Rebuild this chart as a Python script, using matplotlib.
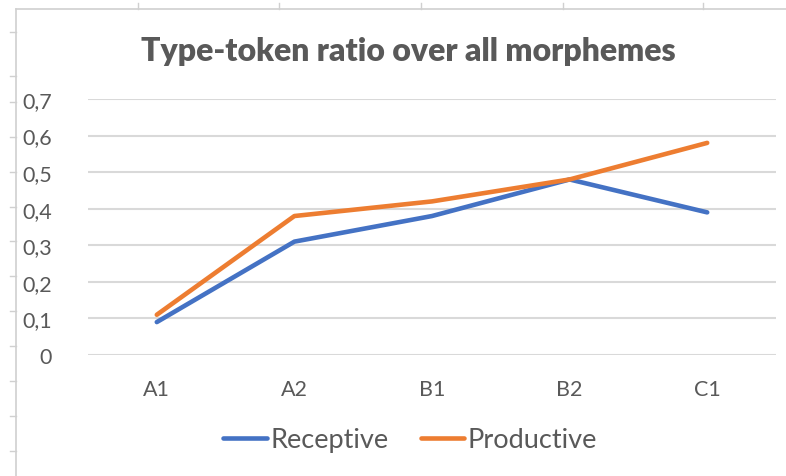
import matplotlib.pyplot as plt
from matplotlib.lines import Line2D

levels = ["A1", "A2", "B1", "B2", "C1"]
receptive = [0.09, 0.31, 0.38, 0.48, 0.39]
productive = [0.11, 0.38, 0.42, 0.48, 0.58]
yticks = [0, 0.1, 0.2, 0.3, 0.4, 0.5, 0.6, 0.7]
ytick_labels = ["0", "0,1", "0,2", "0,3", "0,4", "0,5", "0,6", "0,7"]

plt.rcParams["font.family"] = ["Lato", "DejaVu Sans"]
txt = "#595959"
grid = "#D9D9D9"

fig = plt.figure(figsize=(7.86, 4.77), dpi=100)
W, H = 786, 477

# spreadsheet frame showing around the chart
edge = "#D0D0D0"
fig.add_artist(Line2D([16/W, 1], [1-10/H, 1-10/H], color=edge, lw=1.2))
fig.add_artist(Line2D([16/W, 16/W], [0, 1-10/H], color=edge, lw=1.2))
for x in [138, 279, 421, 563, 703]:
    fig.add_artist(Line2D([x/W, x/W], [1-10/H, 1-4/H], color=edge, lw=1))
for y in [33, 77, 103, 138, 173, 208, 242, 277, 312, 347, 382, 417, 452]:
    fig.add_artist(Line2D([10/W, 16/W], [1-y/H, 1-y/H], color=edge, lw=1))

ax = fig.add_axes([88/W, 1-356/H, (776-88)/W, (356-100)/H])
x = range(len(levels))
ax.plot(x, receptive, color="#4472C4", lw=3.3, label="Receptive", solid_capstyle="round")
ax.plot(x, productive, color="#ED7D31", lw=3.3, label="Productive", solid_capstyle="round")

ax.set_xlim(-0.5, len(levels)-0.5)
ax.set_ylim(0, 0.7)
ax.set_xticks(list(x))
ax.set_xticklabels(levels)
ax.set_yticks(yticks)
ax.set_yticklabels(ytick_labels)
ax.tick_params(axis="both", length=0, labelcolor=txt, labelsize=15.5)
ax.tick_params(axis="y", pad=26)
ax.tick_params(axis="x", pad=17)
for s in ax.spines.values():
    s.set_visible(False)
ax.yaxis.grid(True, color=grid, lw=1.5)
ax.set_axisbelow(True)

fig.text(408/W, 1-51/H, "Type-token ratio over all morphemes", ha="center", va="center",
         fontsize=23, fontweight="heavy", color=txt)

ax.legend(loc="center", bbox_to_anchor=(410/W, 1-441/H), bbox_transform=fig.transFigure,
          ncol=2, frameon=False, fontsize=19.5, labelcolor=txt, handlelength=1.6,
          handletextpad=0.12, columnspacing=1.2)

fig.savefig("out.png", dpi=100)
